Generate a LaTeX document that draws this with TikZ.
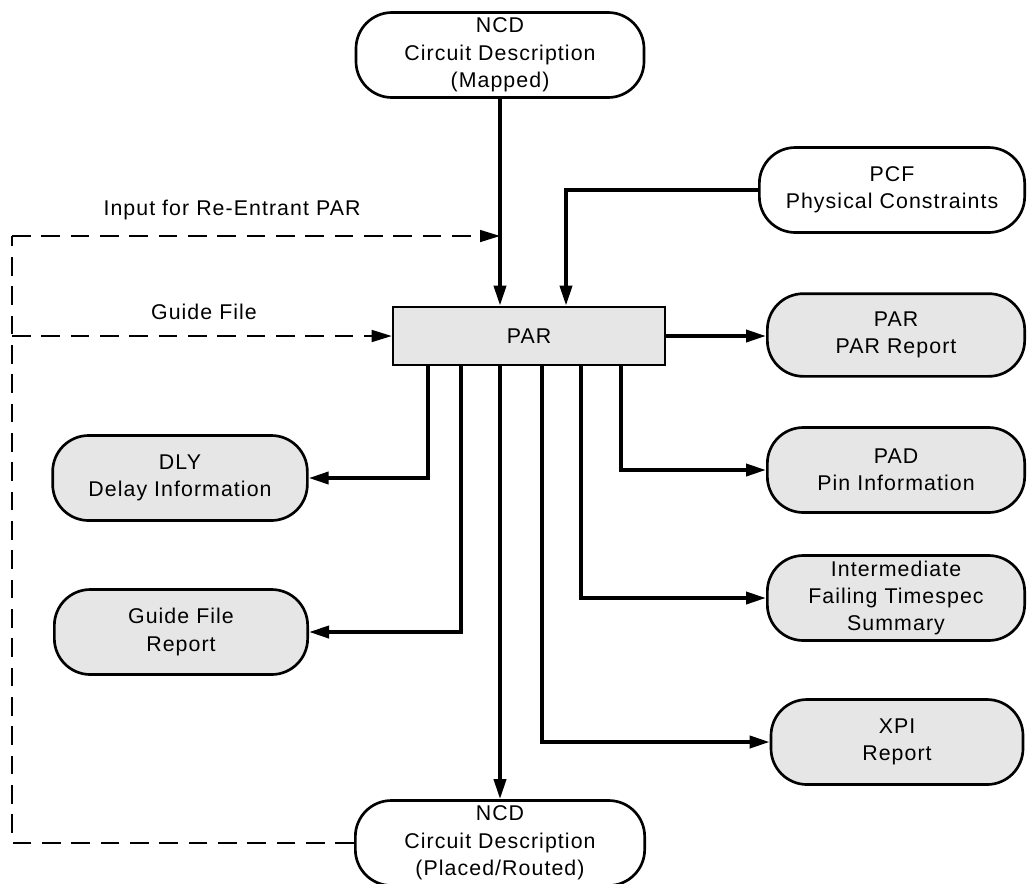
\documentclass[tikz,border=0pt]{standalone}
\usepackage{fontspec}
\setmainfont{Liberation Sans}[LetterSpace=5]
\usetikzlibrary{arrows.meta}
\definecolor{boxgrey}{HTML}{E6E6E6}
\begin{document}
\begin{tikzpicture}[x=0.75pt,y=-0.75pt,
  every node/.style={font=\fontsize{16}{20.5}\selectfont, align=center, inner sep=0pt},
  term/.style={draw, line width=2pt, rounded corners=27pt, minimum height=63.75pt},
  outbox/.style={term, fill=boxgrey},
  parbox/.style={draw, line width=2pt, fill=boxgrey, minimum width=204pt, minimum height=43.5pt},
  arr/.style={line width=2.8pt, -{Triangle[length=15pt,width=9pt]}},
  dsh/.style={line width=1.2pt, dash pattern=on 14pt off 8pt},
  lbl/.style={font=\fontsize{16}{20.5}\selectfont}
]
\useasboundingbox (0,0) rectangle (1027,883);

% nodes
\node[term, minimum width=216pt] (ncdtop) at (500,55) {NCD\\Circuit Description\\(Mapped)};
\node[term, minimum width=199pt] (pcf) at (892,190) {PCF\\Physical Constraints};
\node[parbox] (par) at (529,336) {PAR};
\node[outbox, minimum width=193pt, minimum height=62pt] (parrep) at (896,335) {PAR\\PAR Report};
\node[outbox, minimum width=191pt] (dly) at (180,478) {DLY\\Delay Information};
\node[outbox, minimum width=190pt] (gfr) at (181,632) {Guide File\\Report};
\node[outbox, minimum width=193pt] (pad) at (896,470) {PAD\\Pin Information};
\node[outbox, minimum width=193pt] (fts) at (896,598) {Intermediate\\Failing Timespec\\Summary};
\node[outbox, minimum width=189pt] (xpi) at (897,742) {XPI\\Report};
\node[term, minimum width=217pt] (ncdbot) at (500,843) {NCD\\Circuit Description\\(Placed/Routed)};

\node[lbl] (lre) at (232,210) {Input for Re-Entrant PAR};
\node[lbl] (lgf) at (204,312) {Guide File};

% helper coordinates
\coordinate (xpcf) at (566,0);
\coordinate (xdly) at (428,0);
\coordinate (xgfr) at (461,0);
\coordinate (xxpi) at (542,0);
\coordinate (xfts) at (581,0);
\coordinate (xpad) at (621,0);
\coordinate (xleft) at (12,0);
\coordinate (reentry) at (500,236);

% solid connectors
\draw[arr] (ncdtop.south) -- (par.north -| ncdtop.south);
\draw[arr] (pcf.west) -| (par.north -| xpcf);
\draw[arr] (par.east) -- (parrep.west |- par.east);
\draw[arr] (par.south -| xdly) |- (dly.east);
\draw[arr] (par.south -| xgfr) |- (gfr.east);
\draw[arr] (par.south -| ncdbot.north) -- (ncdbot.north);
\draw[arr] (par.south -| xxpi) |- (xpi.west);
\draw[arr] (par.south -| xfts) |- (fts.west);
\draw[arr] (par.south -| xpad) |- (pad.west);

% dashed feedback
\draw[dsh] (ncdbot.west) -| (reentry -| xleft);
\draw[dsh, -{Triangle[length=15pt,width=9pt]}] (reentry -| xleft) -- (reentry);
\draw[dsh, -{Triangle[length=15pt,width=9pt]}] (par.west -| xleft) -- (par.west);
\end{tikzpicture}
\end{document}
